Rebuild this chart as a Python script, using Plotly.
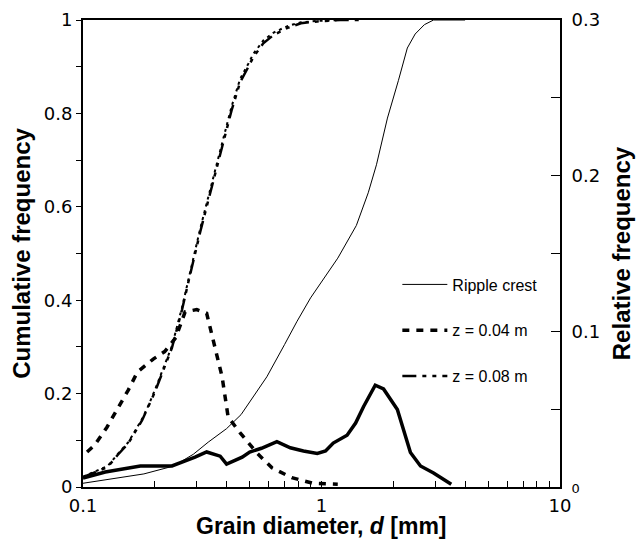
import plotly.graph_objects as go

# ---------------- data ----------------
# Ripple crest, cumulative frequency
d_crest_cum = [0.1, 0.12, 0.15, 0.18, 0.24, 0.29, 0.335, 0.4, 0.46, 0.53, 0.59, 0.7, 0.79, 0.9,
               1.0, 1.17, 1.4, 1.57, 1.7, 1.89, 2.1, 2.29, 2.47, 2.7, 2.95, 3.5, 4.0]
cum_crest = [0.008, 0.014, 0.021, 0.028, 0.045, 0.07, 0.096, 0.125, 0.155, 0.2, 0.236, 0.305, 0.355, 0.405,
             0.44, 0.49, 0.56, 0.63, 0.69, 0.79, 0.87, 0.94, 0.97, 0.99, 1.0, 1.0, 1.0]

# Ripple crest, relative frequency
d_crest_rel = [0.1, 0.124, 0.174, 0.236, 0.295, 0.33, 0.376, 0.40, 0.465, 0.50, 0.56, 0.65, 0.74, 0.84,
               0.96, 1.04, 1.12, 1.28, 1.39, 1.5, 1.68, 1.82, 2.08, 2.36, 2.6, 2.95, 3.5]
rel_crest = [0.0057, 0.0096, 0.0135, 0.0135, 0.0192, 0.0225, 0.0198, 0.0147, 0.0192, 0.0225, 0.0249, 0.0291,
             0.0252, 0.0231, 0.0216, 0.0231, 0.0282, 0.0333, 0.0411, 0.0516, 0.0654, 0.063, 0.0498,
             0.0222, 0.0135, 0.009, 0.0018]

# z = 0.04 m, relative frequency
d_z04_rel = [0.104, 0.112, 0.126, 0.139, 0.155, 0.169, 0.197, 0.22, 0.245, 0.268, 0.3, 0.33, 0.348,
             0.383, 0.406, 0.456, 0.536, 0.62, 0.75, 0.92, 1.17]
rel_z04 = [0.0225, 0.027, 0.0384, 0.05, 0.0624, 0.0738, 0.0822, 0.087, 0.096, 0.1125, 0.114, 0.1116,
           0.0975, 0.0708, 0.045, 0.0348, 0.0219, 0.0123, 0.006, 0.0024, 0.0018]

# z = 0.04 m, cumulative frequency
d_z04_cum = [0.1, 0.127, 0.14, 0.155, 0.177, 0.188, 0.2, 0.236, 0.26, 0.276, 0.295, 0.31, 0.325, 0.341,
             0.358, 0.387, 0.42, 0.456, 0.494, 0.517, 0.57, 0.63, 0.72, 0.82, 0.96, 1.2]
cum_z04 = [0.022, 0.045, 0.071, 0.096, 0.146, 0.174, 0.207, 0.302, 0.384, 0.443, 0.507, 0.553, 0.594, 0.637,
           0.68, 0.745, 0.815, 0.874, 0.907, 0.927, 0.956, 0.973, 0.987, 0.995, 0.998, 1.0]

# z = 0.08 m, cumulative frequency
d_z08_cum = [0.1, 0.127, 0.14, 0.155, 0.177, 0.188, 0.2, 0.236, 0.26, 0.276, 0.295, 0.31, 0.325, 0.341,
             0.358, 0.387, 0.42, 0.456, 0.494, 0.517, 0.57, 0.63, 0.72, 0.82, 0.96, 1.2, 1.5]
cum_z08 = [0.021, 0.043, 0.069, 0.094, 0.143, 0.171, 0.203, 0.298, 0.379, 0.437, 0.501, 0.546, 0.587, 0.63,
           0.672, 0.737, 0.807, 0.867, 0.9, 0.92, 0.95, 0.968, 0.983, 0.993, 0.997, 1.0, 1.0]

# ticks
x_tickvals = [0.1, 0.2, 0.3, 0.4, 0.5, 0.6, 0.7, 0.8, 0.9, 1, 2, 3, 4, 5, 6, 7, 8, 9, 10]
x_ticktext = ["0.1", "", "", "", "", "", "", "", "", "1", "", "", "", "", "", "", "", "", "10"]
y_tickvals = [0, 0.1, 0.2, 0.3, 0.4, 0.5, 0.6, 0.7, 0.8, 0.9, 1.0]
y_ticktext = ["0", "", "0.2", "", "0.4", "", "0.6", "", "0.8", "", "1"]
y2_tickvals = [0, 0.05, 0.1, 0.15, 0.2, 0.25, 0.3]
y2_ticktext = ["<span style='font-size:13px'>0</span>", "", "0.1", "", "0.2", "", "0.3"]

x_title = "<b>Grain diameter, <i>d</i> [mm]</b>"

# ---------------- figure ----------------
fig = go.Figure()

fig.add_trace(go.Scatter(x=d_crest_cum, y=cum_crest, mode="lines", name="Ripple crest",
                         line=dict(color="black", width=1), legendgroup="a"))
fig.add_trace(go.Scatter(x=d_z04_cum, y=cum_z04, mode="lines", name="z = 0.04 m",
                         line=dict(color="black", width=2, dash="3px,4px"), showlegend=False))
fig.add_trace(go.Scatter(x=d_z04_rel, y=rel_z04, mode="lines", name="z = 0.04 m", yaxis="y2",
                         line=dict(color="black", width=3.5, dash="7px,7px"), legendgroup="b"))
fig.add_trace(go.Scatter(x=d_z08_cum, y=cum_z08, mode="lines", name="z = 0.08 m",
                         line=dict(color="black", width=2.5, dash="14px,6px,4px,6px,4px,6px"),
                         legendgroup="c"))
fig.add_trace(go.Scatter(x=d_crest_rel, y=rel_crest, mode="lines", name="Ripple crest (rel.)", yaxis="y2",
                         line=dict(color="black", width=3.5), showlegend=False))

axis_font = dict(family="DejaVu Sans", size=18, color="black")
title_font = dict(family="Liberation Sans", size=24, color="black")

fig.update_layout(
    width=636, height=532,
    margin=dict(l=75, r=84, t=12, b=53),
    paper_bgcolor="white", plot_bgcolor="white",
    showlegend=True,
    legend=dict(x=0.659, y=0.47, xanchor="left", yanchor="top", bgcolor="rgba(0,0,0,0)",
                font=dict(family="Liberation Sans", size=16, color="black"),
                tracegroupgap=22, itemwidth=45),
    xaxis=dict(type="log", range=[-1, 1], tickvals=x_tickvals, ticktext=x_ticktext,
               ticks="inside", ticklen=6, tickwidth=1, tickcolor="black", ticklabelstandoff=1,
               showline=True, linecolor="black", linewidth=2, mirror=True,
               showgrid=False, zeroline=False, tickfont=axis_font, automargin=False),
    yaxis=dict(range=[0, 1], tickvals=y_tickvals, ticktext=y_ticktext,
               ticks="outside", ticklen=5, tickwidth=1, tickcolor="black",
               showline=True, linecolor="black", linewidth=2,
               showgrid=False, zeroline=False, tickfont=axis_font, automargin=False,
               title=dict(text="<b>Cumulative frequency</b>", font=title_font, standoff=10)),
    yaxis2=dict(range=[0, 0.3], overlaying="y", side="right", tickvals=y2_tickvals, ticktext=y2_ticktext,
                ticks="inside", ticklen=9, tickwidth=1, tickcolor="black", ticklabelstandoff=6,
                showline=True, linecolor="black", linewidth=2,
                showgrid=False, zeroline=False, tickfont=axis_font, automargin=False,
                title=dict(text="<b>Relative frequency</b>", font=title_font, standoff=14)),
    annotations=[dict(text=x_title, xref="paper", yref="paper", x=0.5, y=-53 / 467,
                      xanchor="center", yanchor="bottom", yshift=0, borderpad=0, showarrow=False,
                      font=dict(family="Liberation Sans", size=23, color="black"))],
)

fig.write_html("out.html")
